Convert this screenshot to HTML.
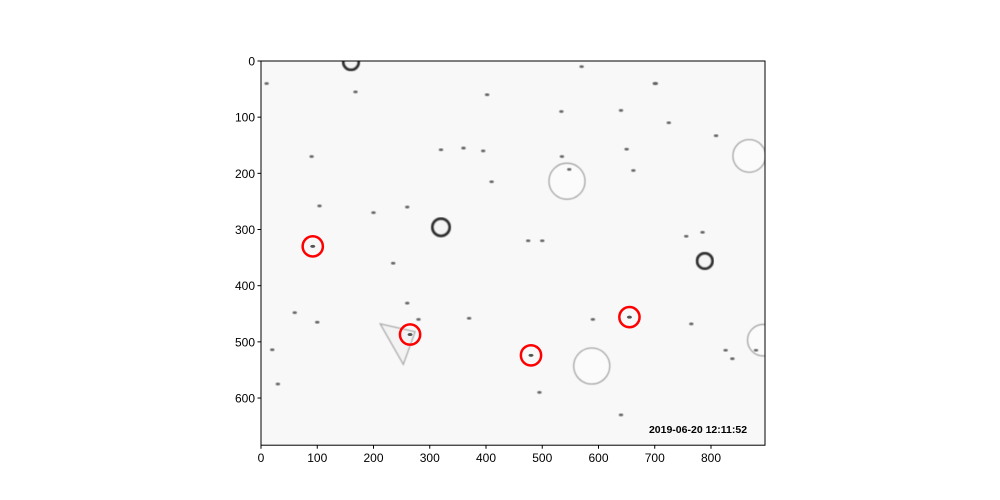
<!DOCTYPE html>
<html><head><meta charset="utf-8"><style>
body{margin:0;background:#fff;}
svg{display:block;font-family:"Liberation Sans",sans-serif;}
</style></head><body>
<svg id="chart" width="1000" height="500" viewBox="0 0 1000 500" xmlns="http://www.w3.org/2000/svg">
<defs><filter id="blur"><feGaussianBlur stdDeviation="0.6"/></filter>
<clipPath id="clip"><rect x="261" y="61" width="504" height="384.2"/></clipPath></defs>
<rect x="0" y="0" width="1000" height="500" fill="#fff"/>
<g id="img" clip-path="url(#clip)"></g>
<g id="marks"></g>
<g id="axes"></g>
</svg>
<script>
const xTicks=[0,100,200,300,400,500,600,700,800];
const yTicks=[0,100,200,300,400,500,600];
const imgW=896, imgH=684;
const darkRingX=[160,320,789];
const darkRingY=[2,296,356];
const darkRingR=[17,19,17];
const lightRingX=[544,588,868,893];
const lightRingY=[214,543,169,497];
const lightRingR=[32,32,29,28];
const speckX=[168,90,104,20,30,60,100,200,235,360,402,475,495,534,535,570,640,650,662,702,725,756,765,809,826,838,880,785,410,320,260,640,548,370,280,10,395,590,700,500,260];
const speckY=[55,170,258,514,575,448,465,270,360,155,60,320,590,90,170,10,88,157,195,40,110,312,468,133,515,530,515,305,215,158,431,630,193,458,460,40,160,460,40,320,260];
const targetX=[92,265,480,655];
const targetY=[330,487,524,456];
const targetR=[18,18,18,18];
const triX=[212,274,253];
const triY=[468,482,540];
const stamp="2019-06-20 12:11:52";

const L=261,T=61,SX=0.5625,SY=0.5617;
const ox=v=>L+v*SX, oy=v=>T+v*SY;
const NS="http://www.w3.org/2000/svg";
function mk(tag,attrs,parent){const e=document.createElementNS(NS,tag);for(const k in attrs)e.setAttribute(k,attrs[k]);parent.appendChild(e);return e;}
const img=document.getElementById('img'),marks=document.getElementById('marks'),axes=document.getElementById('axes');
const bg=mk('rect',{x:ox(0),y:oy(0),width:imgW*SX,height:imgH*SY,fill:'#f8f8f8'},img);


lightRingX.forEach((x,i)=>{const c=mk('circle',{cx:ox(x),cy:oy(lightRingY[i]),r:lightRingR[i]*SX,fill:'#fbfbfb',stroke:'#a0a0a0',"stroke-width":1.3,filter:'url(#blur)'},img);

});
darkRingX.forEach((x,i)=>{const c=mk('circle',{cx:ox(x),cy:oy(darkRingY[i]),r:darkRingR[i]*SX*0.8,fill:'#f4f4f4',stroke:'#333',"stroke-width":3,filter:'url(#blur)'},img);

});
speckX.forEach((x,i)=>{const c=mk('ellipse',{cx:ox(x),cy:oy(speckY[i]),rx:2.2,ry:1.4,fill:'#666',filter:'url(#blur)'},img);

});
const tri=mk('polygon',{points:triX.map((x,i)=>ox(x)+','+oy(triY[i])).join(' '),fill:'#f3f3f3',stroke:'#aaa',"stroke-width":1.3,filter:'url(#blur)'},img);


targetX.forEach((x,i)=>{mk('ellipse',{cx:ox(x),cy:oy(targetY[i]),rx:2.5,ry:1.5,fill:'#555'},marks);
const c=mk('circle',{cx:ox(x),cy:oy(targetY[i]),r:targetR[i]*SX,fill:'none',stroke:'#f00',"stroke-width":2.5},marks);

});
const st=mk('text',{x:698,y:433,"font-size":10.5,"font-weight":"bold","text-anchor":"middle",fill:'#000'},marks);
st.textContent=stamp;


const fr=mk('rect',{x:ox(0),y:oy(0),width:imgW*SX,height:imgH*SY,fill:'none',stroke:'#000',"stroke-width":1},axes);


xTicks.forEach(t=>{mk('line',{x1:ox(t),x2:ox(t),y1:oy(imgH),y2:oy(imgH)+3.5,stroke:'#000'},axes);
const tx=mk('text',{x:ox(t),y:oy(imgH)+17,"font-size":12,"text-anchor":"middle"},axes);tx.textContent=t;

});
yTicks.forEach(t=>{mk('line',{x1:ox(0)-3.5,x2:ox(0),y1:oy(t),y2:oy(t),stroke:'#000'},axes);
const tx=mk('text',{x:ox(0)-6,y:oy(t)+4.5,"font-size":12,"text-anchor":"end"},axes);tx.textContent=t;

});
</script>
</body></html>
